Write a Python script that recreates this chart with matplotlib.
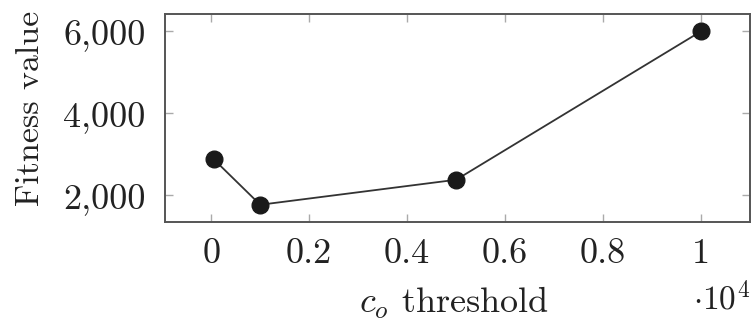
import matplotlib
matplotlib.use("Agg")
import matplotlib.pyplot as plt

# c_o threshold (in units of 10^4) vs fitness value
thresholds = [0.005, 0.1, 0.5, 1.0]
fitness = [2880, 1770, 2380, 6000]

x_ticks = [0, 0.2, 0.4, 0.6, 0.8, 1]
x_tick_labels = ["0", "0.2", "0.4", "0.6", "0.8", "1"]
y_ticks = [2000, 4000, 6000]
y_tick_labels = ["2,000", "4,000", "6,000"]

plt.rcParams["font.family"] = ["cmr10", "DejaVu Serif"]
plt.rcParams["mathtext.fontset"] = "cm"
plt.rcParams["axes.unicode_minus"] = False

fig = plt.figure(figsize=(7.52, 3.33), dpi=100)
ax = fig.add_axes([0.2194, 0.333, 0.7776, 0.625])

ax.plot(thresholds, fitness, color="#333333", linewidth=1.3,
        marker="o", markersize=12, markerfacecolor="#1a1a1a",
        markeredgecolor="#1a1a1a")

# pgfplots-style enlarged limits
xr = max(thresholds) - min(thresholds)
yr = max(fitness) - min(fitness)
ax.set_xlim(min(thresholds) - 0.1 * xr, max(thresholds) + 0.1 * xr)
ax.set_ylim(min(fitness) - 0.1 * yr, max(fitness) + 0.1 * yr)

ax.set_xticks(x_ticks)
ax.set_xticklabels(x_tick_labels)
ax.set_yticks(y_ticks)
ax.set_yticklabels(y_tick_labels)

ax.tick_params(direction="in", length=6, width=1.0, color="#aaaaaa",
               top=True, right=True, labelsize=26, labelcolor="#222222")
ax.tick_params(axis="x", pad=12)
ax.tick_params(axis="y", pad=14)

for sp in ax.spines.values():
    sp.set_color("#555555")
    sp.set_linewidth(1.4)

fig.text(454 / 752, 1 - 303 / 333, r"$c_o$ threshold", fontsize=26,
         ha="center", va="center", color="#222222")
fig.text(722 / 752, 1 - 298 / 333, r"$\cdot 10^4$", fontsize=24,
         ha="center", va="center", color="#222222")
fig.text(30 / 752, 1 - 108 / 333, "Fitness value", fontsize=24.5,
         rotation=90, ha="center", va="center", color="#222222")

fig.savefig("out.png", dpi=100)
